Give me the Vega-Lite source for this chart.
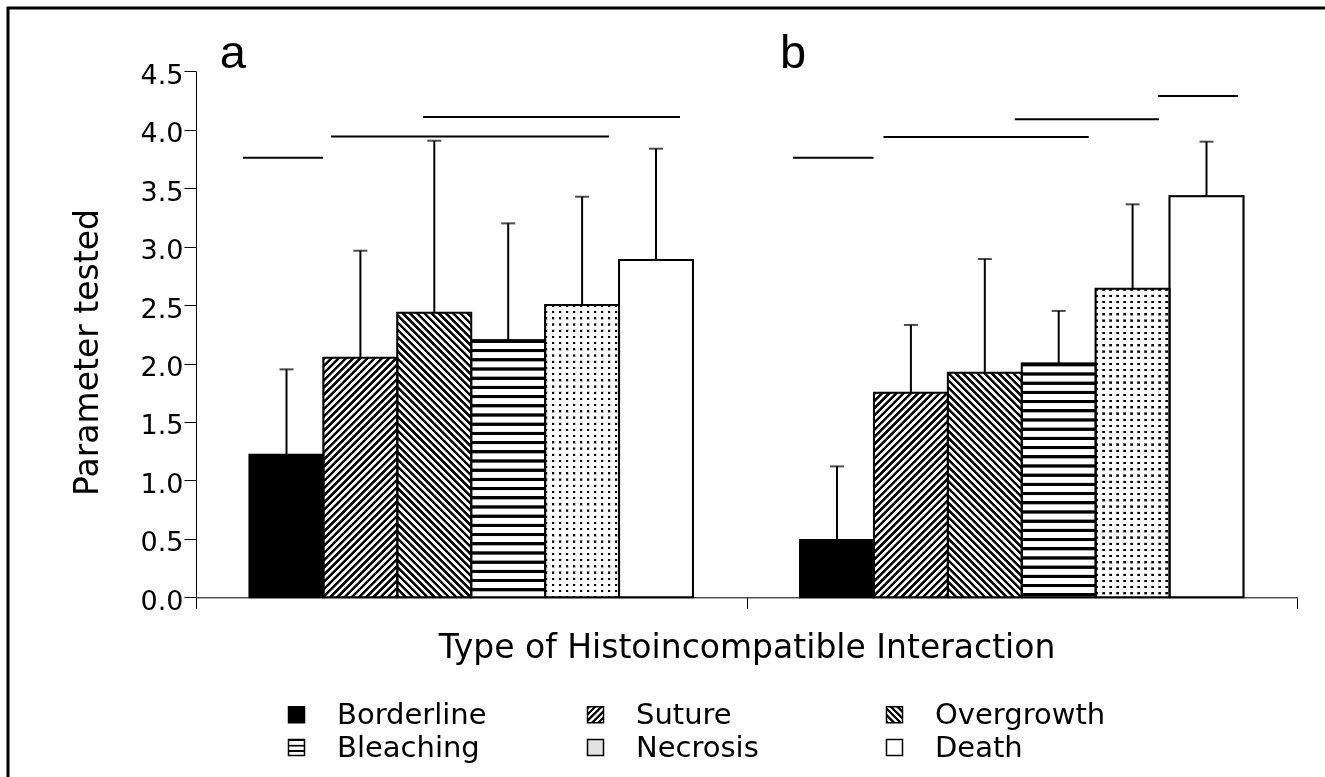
{
"$schema": "https://vega.github.io/schema/vega-lite/v6.json",
"width": 1319,
"height": 771,
"autosize": "none",
"padding": {"left": 8, "top": 8, "right": 0, "bottom": 0},
"background": "white",
"config": {"view": {"stroke": "black", "strokeWidth": 3}, "axis": {"grid": false}},
"params": [
{"name": "SA", "value": [
{"offset":0,"color":"#000"},{"offset":0.008,"color":"#000"},{"offset":0.01,"color":"#fff"},{"offset":0.018,"color":"#fff"},
{"offset":0.02,"color":"#000"},{"offset":0.028,"color":"#000"},{"offset":0.03,"color":"#fff"},{"offset":0.038,"color":"#fff"},
{"offset":0.04,"color":"#000"},{"offset":0.048,"color":"#000"},{"offset":0.05,"color":"#fff"},{"offset":0.058,"color":"#fff"},
{"offset":0.06,"color":"#000"},{"offset":0.068,"color":"#000"},{"offset":0.07,"color":"#fff"},{"offset":0.078,"color":"#fff"},
{"offset":0.08,"color":"#000"},{"offset":0.088,"color":"#000"},{"offset":0.09,"color":"#fff"},{"offset":0.098,"color":"#fff"},
{"offset":0.1,"color":"#000"},{"offset":0.108,"color":"#000"},{"offset":0.11,"color":"#fff"},{"offset":0.118,"color":"#fff"},
{"offset":0.12,"color":"#000"},{"offset":0.128,"color":"#000"},{"offset":0.13,"color":"#fff"},{"offset":0.138,"color":"#fff"},
{"offset":0.14,"color":"#000"},{"offset":0.148,"color":"#000"},{"offset":0.15,"color":"#fff"},{"offset":0.158,"color":"#fff"},
{"offset":0.16,"color":"#000"},{"offset":0.168,"color":"#000"},{"offset":0.17,"color":"#fff"},{"offset":0.178,"color":"#fff"},
{"offset":0.18,"color":"#000"},{"offset":0.188,"color":"#000"},{"offset":0.19,"color":"#fff"},{"offset":0.198,"color":"#fff"},
{"offset":0.2,"color":"#000"},{"offset":0.208,"color":"#000"},{"offset":0.21,"color":"#fff"},{"offset":0.218,"color":"#fff"},
{"offset":0.22,"color":"#000"},{"offset":0.228,"color":"#000"},{"offset":0.23,"color":"#fff"},{"offset":0.238,"color":"#fff"},
{"offset":0.24,"color":"#000"},{"offset":0.248,"color":"#000"},{"offset":0.25,"color":"#fff"},{"offset":0.258,"color":"#fff"},
{"offset":0.26,"color":"#000"},{"offset":0.268,"color":"#000"},{"offset":0.27,"color":"#fff"},{"offset":0.278,"color":"#fff"},
{"offset":0.28,"color":"#000"},{"offset":0.288,"color":"#000"},{"offset":0.29,"color":"#fff"},{"offset":0.298,"color":"#fff"},
{"offset":0.3,"color":"#000"},{"offset":0.308,"color":"#000"},{"offset":0.31,"color":"#fff"},{"offset":0.318,"color":"#fff"},
{"offset":0.32,"color":"#000"},{"offset":0.328,"color":"#000"},{"offset":0.33,"color":"#fff"},{"offset":0.338,"color":"#fff"},
{"offset":0.34,"color":"#000"},{"offset":0.348,"color":"#000"},{"offset":0.35,"color":"#fff"},{"offset":0.358,"color":"#fff"},
{"offset":0.36,"color":"#000"},{"offset":0.368,"color":"#000"},{"offset":0.37,"color":"#fff"},{"offset":0.378,"color":"#fff"},
{"offset":0.38,"color":"#000"},{"offset":0.388,"color":"#000"},{"offset":0.39,"color":"#fff"},{"offset":0.398,"color":"#fff"},
{"offset":0.4,"color":"#000"},{"offset":0.408,"color":"#000"},{"offset":0.41,"color":"#fff"},{"offset":0.418,"color":"#fff"},
{"offset":0.42,"color":"#000"},{"offset":0.428,"color":"#000"},{"offset":0.43,"color":"#fff"},{"offset":0.438,"color":"#fff"},
{"offset":0.44,"color":"#000"},{"offset":0.448,"color":"#000"},{"offset":0.45,"color":"#fff"},{"offset":0.458,"color":"#fff"},
{"offset":0.46,"color":"#000"},{"offset":0.468,"color":"#000"},{"offset":0.47,"color":"#fff"},{"offset":0.478,"color":"#fff"},
{"offset":0.48,"color":"#000"},{"offset":0.488,"color":"#000"},{"offset":0.49,"color":"#fff"},{"offset":0.498,"color":"#fff"},
{"offset":0.5,"color":"#000"},{"offset":0.508,"color":"#000"},{"offset":0.51,"color":"#fff"},{"offset":0.518,"color":"#fff"},
{"offset":0.52,"color":"#000"},{"offset":0.528,"color":"#000"},{"offset":0.53,"color":"#fff"},{"offset":0.538,"color":"#fff"},
{"offset":0.54,"color":"#000"},{"offset":0.548,"color":"#000"},{"offset":0.55,"color":"#fff"},{"offset":0.558,"color":"#fff"},
{"offset":0.56,"color":"#000"},{"offset":0.568,"color":"#000"},{"offset":0.57,"color":"#fff"},{"offset":0.578,"color":"#fff"},
{"offset":0.58,"color":"#000"},{"offset":0.588,"color":"#000"},{"offset":0.59,"color":"#fff"},{"offset":0.598,"color":"#fff"},
{"offset":0.6,"color":"#000"},{"offset":0.608,"color":"#000"},{"offset":0.61,"color":"#fff"},{"offset":0.618,"color":"#fff"},
{"offset":0.62,"color":"#000"},{"offset":0.628,"color":"#000"},{"offset":0.63,"color":"#fff"},{"offset":0.638,"color":"#fff"},
{"offset":0.64,"color":"#000"},{"offset":0.648,"color":"#000"},{"offset":0.65,"color":"#fff"},{"offset":0.658,"color":"#fff"},
{"offset":0.66,"color":"#000"},{"offset":0.668,"color":"#000"},{"offset":0.67,"color":"#fff"},{"offset":0.678,"color":"#fff"},
{"offset":0.68,"color":"#000"},{"offset":0.688,"color":"#000"},{"offset":0.69,"color":"#fff"},{"offset":0.698,"color":"#fff"},
{"offset":0.7,"color":"#000"},{"offset":0.708,"color":"#000"},{"offset":0.71,"color":"#fff"},{"offset":0.718,"color":"#fff"},
{"offset":0.72,"color":"#000"},{"offset":0.728,"color":"#000"},{"offset":0.73,"color":"#fff"},{"offset":0.738,"color":"#fff"},
{"offset":0.74,"color":"#000"},{"offset":0.748,"color":"#000"},{"offset":0.75,"color":"#fff"},{"offset":0.758,"color":"#fff"},
{"offset":0.76,"color":"#000"},{"offset":0.768,"color":"#000"},{"offset":0.77,"color":"#fff"},{"offset":0.778,"color":"#fff"},
{"offset":0.78,"color":"#000"},{"offset":0.788,"color":"#000"},{"offset":0.79,"color":"#fff"},{"offset":0.798,"color":"#fff"},
{"offset":0.8,"color":"#000"},{"offset":0.808,"color":"#000"},{"offset":0.81,"color":"#fff"},{"offset":0.818,"color":"#fff"},
{"offset":0.82,"color":"#000"},{"offset":0.828,"color":"#000"},{"offset":0.83,"color":"#fff"},{"offset":0.838,"color":"#fff"},
{"offset":0.84,"color":"#000"},{"offset":0.848,"color":"#000"},{"offset":0.85,"color":"#fff"},{"offset":0.858,"color":"#fff"},
{"offset":0.86,"color":"#000"},{"offset":0.868,"color":"#000"},{"offset":0.87,"color":"#fff"},{"offset":0.878,"color":"#fff"},
{"offset":0.88,"color":"#000"},{"offset":0.888,"color":"#000"},{"offset":0.89,"color":"#fff"},{"offset":0.898,"color":"#fff"},
{"offset":0.9,"color":"#000"},{"offset":0.908,"color":"#000"},{"offset":0.91,"color":"#fff"},{"offset":0.918,"color":"#fff"},
{"offset":0.92,"color":"#000"},{"offset":0.928,"color":"#000"},{"offset":0.93,"color":"#fff"},{"offset":0.938,"color":"#fff"},
{"offset":0.94,"color":"#000"},{"offset":0.948,"color":"#000"},{"offset":0.95,"color":"#fff"},{"offset":0.958,"color":"#fff"},
{"offset":0.96,"color":"#000"},{"offset":0.968,"color":"#000"},{"offset":0.97,"color":"#fff"},{"offset":0.978,"color":"#fff"},
{"offset":0.98,"color":"#000"},{"offset":0.988,"color":"#000"},{"offset":0.99,"color":"#fff"},{"offset":0.998,"color":"#fff"}
]},
{"name": "SB", "value": [
{"offset":0,"color":"#000"},{"offset":0.0055,"color":"#000"},{"offset":0.007,"color":"#fff"},{"offset":0.0185,"color":"#fff"},
{"offset":0.02,"color":"#000"},{"offset":0.0255,"color":"#000"},{"offset":0.027,"color":"#fff"},{"offset":0.0385,"color":"#fff"},
{"offset":0.04,"color":"#000"},{"offset":0.0455,"color":"#000"},{"offset":0.047,"color":"#fff"},{"offset":0.0585,"color":"#fff"},
{"offset":0.06,"color":"#000"},{"offset":0.0655,"color":"#000"},{"offset":0.067,"color":"#fff"},{"offset":0.0785,"color":"#fff"},
{"offset":0.08,"color":"#000"},{"offset":0.0855,"color":"#000"},{"offset":0.087,"color":"#fff"},{"offset":0.0985,"color":"#fff"},
{"offset":0.1,"color":"#000"},{"offset":0.1055,"color":"#000"},{"offset":0.107,"color":"#fff"},{"offset":0.1185,"color":"#fff"},
{"offset":0.12,"color":"#000"},{"offset":0.1255,"color":"#000"},{"offset":0.127,"color":"#fff"},{"offset":0.1385,"color":"#fff"},
{"offset":0.14,"color":"#000"},{"offset":0.1455,"color":"#000"},{"offset":0.147,"color":"#fff"},{"offset":0.1585,"color":"#fff"},
{"offset":0.16,"color":"#000"},{"offset":0.1655,"color":"#000"},{"offset":0.167,"color":"#fff"},{"offset":0.1785,"color":"#fff"},
{"offset":0.18,"color":"#000"},{"offset":0.1855,"color":"#000"},{"offset":0.187,"color":"#fff"},{"offset":0.1985,"color":"#fff"},
{"offset":0.2,"color":"#000"},{"offset":0.2055,"color":"#000"},{"offset":0.207,"color":"#fff"},{"offset":0.2185,"color":"#fff"},
{"offset":0.22,"color":"#000"},{"offset":0.2255,"color":"#000"},{"offset":0.227,"color":"#fff"},{"offset":0.2385,"color":"#fff"},
{"offset":0.24,"color":"#000"},{"offset":0.2455,"color":"#000"},{"offset":0.247,"color":"#fff"},{"offset":0.2585,"color":"#fff"},
{"offset":0.26,"color":"#000"},{"offset":0.2655,"color":"#000"},{"offset":0.267,"color":"#fff"},{"offset":0.2785,"color":"#fff"},
{"offset":0.28,"color":"#000"},{"offset":0.2855,"color":"#000"},{"offset":0.287,"color":"#fff"},{"offset":0.2985,"color":"#fff"},
{"offset":0.3,"color":"#000"},{"offset":0.3055,"color":"#000"},{"offset":0.307,"color":"#fff"},{"offset":0.3185,"color":"#fff"},
{"offset":0.32,"color":"#000"},{"offset":0.3255,"color":"#000"},{"offset":0.327,"color":"#fff"},{"offset":0.3385,"color":"#fff"},
{"offset":0.34,"color":"#000"},{"offset":0.3455,"color":"#000"},{"offset":0.347,"color":"#fff"},{"offset":0.3585,"color":"#fff"},
{"offset":0.36,"color":"#000"},{"offset":0.3655,"color":"#000"},{"offset":0.367,"color":"#fff"},{"offset":0.3785,"color":"#fff"},
{"offset":0.38,"color":"#000"},{"offset":0.3855,"color":"#000"},{"offset":0.387,"color":"#fff"},{"offset":0.3985,"color":"#fff"},
{"offset":0.4,"color":"#000"},{"offset":0.4055,"color":"#000"},{"offset":0.407,"color":"#fff"},{"offset":0.4185,"color":"#fff"},
{"offset":0.42,"color":"#000"},{"offset":0.4255,"color":"#000"},{"offset":0.427,"color":"#fff"},{"offset":0.4385,"color":"#fff"},
{"offset":0.44,"color":"#000"},{"offset":0.4455,"color":"#000"},{"offset":0.447,"color":"#fff"},{"offset":0.4585,"color":"#fff"},
{"offset":0.46,"color":"#000"},{"offset":0.4655,"color":"#000"},{"offset":0.467,"color":"#fff"},{"offset":0.4785,"color":"#fff"},
{"offset":0.48,"color":"#000"},{"offset":0.4855,"color":"#000"},{"offset":0.487,"color":"#fff"},{"offset":0.4985,"color":"#fff"},
{"offset":0.5,"color":"#000"},{"offset":0.5055,"color":"#000"},{"offset":0.507,"color":"#fff"},{"offset":0.5185,"color":"#fff"},
{"offset":0.52,"color":"#000"},{"offset":0.5255,"color":"#000"},{"offset":0.527,"color":"#fff"},{"offset":0.5385,"color":"#fff"},
{"offset":0.54,"color":"#000"},{"offset":0.5455,"color":"#000"},{"offset":0.547,"color":"#fff"},{"offset":0.5585,"color":"#fff"},
{"offset":0.56,"color":"#000"},{"offset":0.5655,"color":"#000"},{"offset":0.567,"color":"#fff"},{"offset":0.5785,"color":"#fff"},
{"offset":0.58,"color":"#000"},{"offset":0.5855,"color":"#000"},{"offset":0.587,"color":"#fff"},{"offset":0.5985,"color":"#fff"},
{"offset":0.6,"color":"#000"},{"offset":0.6055,"color":"#000"},{"offset":0.607,"color":"#fff"},{"offset":0.6185,"color":"#fff"},
{"offset":0.62,"color":"#000"},{"offset":0.6255,"color":"#000"},{"offset":0.627,"color":"#fff"},{"offset":0.6385,"color":"#fff"},
{"offset":0.64,"color":"#000"},{"offset":0.6455,"color":"#000"},{"offset":0.647,"color":"#fff"},{"offset":0.6585,"color":"#fff"},
{"offset":0.66,"color":"#000"},{"offset":0.6655,"color":"#000"},{"offset":0.667,"color":"#fff"},{"offset":0.6785,"color":"#fff"},
{"offset":0.68,"color":"#000"},{"offset":0.6855,"color":"#000"},{"offset":0.687,"color":"#fff"},{"offset":0.6985,"color":"#fff"},
{"offset":0.7,"color":"#000"},{"offset":0.7055,"color":"#000"},{"offset":0.707,"color":"#fff"},{"offset":0.7185,"color":"#fff"},
{"offset":0.72,"color":"#000"},{"offset":0.7255,"color":"#000"},{"offset":0.727,"color":"#fff"},{"offset":0.7385,"color":"#fff"},
{"offset":0.74,"color":"#000"},{"offset":0.7455,"color":"#000"},{"offset":0.747,"color":"#fff"},{"offset":0.7585,"color":"#fff"},
{"offset":0.76,"color":"#000"},{"offset":0.7655,"color":"#000"},{"offset":0.767,"color":"#fff"},{"offset":0.7785,"color":"#fff"},
{"offset":0.78,"color":"#000"},{"offset":0.7855,"color":"#000"},{"offset":0.787,"color":"#fff"},{"offset":0.7985,"color":"#fff"},
{"offset":0.8,"color":"#000"},{"offset":0.8055,"color":"#000"},{"offset":0.807,"color":"#fff"},{"offset":0.8185,"color":"#fff"},
{"offset":0.82,"color":"#000"},{"offset":0.8255,"color":"#000"},{"offset":0.827,"color":"#fff"},{"offset":0.8385,"color":"#fff"},
{"offset":0.84,"color":"#000"},{"offset":0.8455,"color":"#000"},{"offset":0.847,"color":"#fff"},{"offset":0.8585,"color":"#fff"},
{"offset":0.86,"color":"#000"},{"offset":0.8655,"color":"#000"},{"offset":0.867,"color":"#fff"},{"offset":0.8785,"color":"#fff"},
{"offset":0.88,"color":"#000"},{"offset":0.8855,"color":"#000"},{"offset":0.887,"color":"#fff"},{"offset":0.8985,"color":"#fff"},
{"offset":0.9,"color":"#000"},{"offset":0.9055,"color":"#000"},{"offset":0.907,"color":"#fff"},{"offset":0.9185,"color":"#fff"},
{"offset":0.92,"color":"#000"},{"offset":0.9255,"color":"#000"},{"offset":0.927,"color":"#fff"},{"offset":0.9385,"color":"#fff"},
{"offset":0.94,"color":"#000"},{"offset":0.9455,"color":"#000"},{"offset":0.947,"color":"#fff"},{"offset":0.9585,"color":"#fff"},
{"offset":0.96,"color":"#000"},{"offset":0.9655,"color":"#000"},{"offset":0.967,"color":"#fff"},{"offset":0.9785,"color":"#fff"},
{"offset":0.98,"color":"#000"},{"offset":0.9855,"color":"#000"},{"offset":0.987,"color":"#fff"},{"offset":0.9985,"color":"#fff"}
]},
{"name": "gSutA", "expr": "{gradient: 'linear', x1: 0, y1: 0, x2: 0.4232, y2: 1.372, stops: SA}"},
{"name": "gSutB", "expr": "{gradient: 'linear', x1: 0, y1: 0, x2: 0.5622, y2: 1.5565, stops: SA}"},
{"name": "gOvgA", "expr": "{gradient: 'linear', x1: 0, y1: 1, x2: 0.3077, y2: -0.1849, stops: SA}"},
{"name": "gOvgB", "expr": "{gradient: 'linear', x1: 0, y1: 1, x2: 0.4766, y2: -0.4473, stops: SA}"},
{"name": "gBleA", "expr": "{gradient: 'linear', x1: 0, y1: 0, x2: 0, y2: 1.7885, stops: SB}"},
{"name": "gBleB", "expr": "{gradient: 'linear', x1: 0, y1: 0, x2: 0, y2: 1.9675, stops: SB}"},
{"name": "gNecA", "expr": "{gradient: 'linear', x1: 0, y1: 0, x2: 0, y2: 1.061, stops: SB}"},
{"name": "gNecB", "expr": "{gradient: 'linear', x1: 0, y1: 0, x2: 0, y2: 1.0045, stops: SB}"},
{"name": "gNecC", "expr": "{gradient: 'linear', x1: 0, y1: 0, x2: 4.736, y2: 0, stops: SB}"},
{"name": "gSutL", "expr": "{gradient: 'linear', x1: 0, y1: 0, x2: 10, y2: 10, stops: SA}"},
{"name": "gOvgL", "expr": "{gradient: 'linear', x1: 0, y1: 1, x2: 10, y2: -9, stops: SA}"},
{"name": "gBleL", "expr": "{gradient: 'linear', x1: 0, y1: 0, x2: 0, y2: 16.7, stops: SB}"}
],
"datasets": {
"bars": [
{"panel": "a", "type": "Borderline", "value": 1.22, "upper": 1.95},
{"panel": "a", "type": "Suture", "value": 2.05, "upper": 2.965},
{"panel": "a", "type": "Overgrowth", "value": 2.435, "upper": 3.906},
{"panel": "a", "type": "Bleaching", "value": 2.2, "upper": 3.199},
{"panel": "a", "type": "Necrosis", "value": 2.5, "upper": 3.427},
{"panel": "a", "type": "Death", "value": 2.885, "upper": 3.838},
{"panel": "b", "type": "Borderline", "value": 0.49, "upper": 1.12},
{"panel": "b", "type": "Suture", "value": 1.75, "upper": 2.33},
{"panel": "b", "type": "Overgrowth", "value": 1.92, "upper": 2.894},
{"panel": "b", "type": "Bleaching", "value": 2.0, "upper": 2.45},
{"panel": "b", "type": "Necrosis", "value": 2.64, "upper": 3.362},
{"panel": "b", "type": "Death", "value": 3.43, "upper": 3.898}
],
"sig": [
{"panel": "a", "start": 0.0854, "end": 0.2307, "level": 3.76},
{"panel": "a", "start": 0.2452, "end": 0.7502, "level": 3.943},
{"panel": "a", "start": 0.4124, "end": 0.8792, "level": 4.11},
{"panel": "b", "start": 1.0845, "end": 1.2307, "level": 3.76},
{"panel": "b", "start": 1.2489, "end": 1.6217, "level": 3.938},
{"panel": "b", "start": 1.4874, "end": 1.7492, "level": 4.089},
{"panel": "b", "start": 1.7475, "end": 1.8928, "level": 4.288}
],
"labels": [
{"label": "a", "x": 0.0431, "y": 4.526},
{"label": "b", "x": 1.0609, "y": 4.526}
]
},
"resolve": {"scale": {"x": "independent"}, "axis": {"x": "independent", "y": "independent"}},
"layer": [
{
"data": {"name": "bars"},
"encoding": {
"x": {"field": "panel", "type": "nominal",
"scale": {"domain": ["a", "b"], "range": [188, 1289], "paddingInner": 0, "paddingOuter": 0},
"axis": {"orient": "bottom", "offset": -181.7, "labels": false, "tickBand": "extent", "tickSize": 11, "tickColor": "black", "tickWidth": 1, "domainColor": "black", "domainWidth": 1,
"title": "Type of Histoincompatible Interaction", "titleFont": "DejaVu Sans", "titleFontSize": 33, "titleFontWeight": "normal", "titleColor": "black", "titlePadding": 23}},
"xOffset": {"field": "type", "type": "nominal",
"scale": {"domain": ["Borderline", "Suture", "Overgrowth", "Bleaching", "Necrosis", "Death"], "paddingInner": 0, "paddingOuter": 0.7246}},
"y": {"field": "value", "type": "quantitative",
"scale": {"domain": [0, 4.5], "range": [589.3, 63.3], "nice": false, "zero": true},
"axis": {"orient": "left", "offset": -188, "values": [0, 0.5, 1, 1.5, 2, 2.5, 3, 3.5, 4, 4.5], "format": ".1f",
"labelFont": "DejaVu Sans", "labelFontSize": 27, "labelColor": "black", "labelPadding": 1, "labelOffset": 4, "labelFlush": false, "labelOverlap": false,
"tickSize": 12, "tickColor": "black", "tickWidth": 1, "domainColor": "black", "domainWidth": 1,
"title": "Parameter tested", "titleFont": "DejaVu Sans", "titleFontSize": 33, "titleFontWeight": "normal", "titleColor": "black", "titlePadding": 36, "titleY": 344}}
},
"layer": [
{"mark": {"type": "bar", "stroke": "black", "strokeWidth": 1.5},
"encoding": {"fill": {"field": "type", "type": "nominal",
"scale": {"domain": ["Borderline", "Bleaching", "Suture", "Necrosis", "Overgrowth", "Death"],
"range": ["black", {"expr": "gBleL"}, {"expr": "gSutL"}, "#e2e2e2", {"expr": "gOvgL"}, "white"]},
"legend": {"title": null, "orient": "none", "legendX": 274, "legendY": 692, "columns": 3, "direction": "vertical",
"symbolType": "square", "symbolSize": 256, "symbolStrokeColor": "black", "symbolStrokeWidth": 1.5, "symbolOpacity": 1,
"labelFont": "DejaVu Sans", "labelFontSize": 29, "labelColor": "black", "labelOffset": 26,
"columnPadding": 73, "rowPadding": 3, "gridAlign": "all", "padding": 0, "labelLimit": 400}}}},
{"mark": {"type": "bar", "strokeWidth": 0,
"fill": {"expr": "datum.type === 'Borderline' ? 'black' : datum.type === 'Death' ? 'white' : datum.type === 'Suture' ? (datum.panel === 'a' ? gSutA : gSutB) : datum.type === 'Overgrowth' ? (datum.panel === 'a' ? gOvgA : gOvgB) : datum.type === 'Bleaching' ? (datum.panel === 'a' ? gBleA : gBleB) : (datum.panel === 'a' ? gNecA : gNecB)"}}},
{"transform": [{"filter": "datum.type === 'Necrosis'"}],
"mark": {"type": "bar", "strokeWidth": 0, "blend": "lighten", "fill": {"expr": "gNecC"}}},
{"mark": {"type": "bar", "fill": "transparent", "stroke": "black", "strokeWidth": 2}},
{"mark": {"type": "rule", "color": "black", "strokeWidth": 2},
"encoding": {"y2": {"field": "upper"}}},
{"mark": {"type": "tick", "color": "black", "size": 14, "thickness": 2},
"encoding": {"y": {"field": "upper", "type": "quantitative", "scale": {"domain": [0, 4.5], "range": [589.3, 63.3], "nice": false, "zero": true}}}}
]
},
{
"data": {"name": "sig"},
"mark": {"type": "rule", "color": "black", "strokeWidth": 2},
"encoding": {
"x": {"field": "start", "type": "quantitative", "scale": {"domain": [0, 2], "range": [188, 1289], "nice": false, "zero": false}, "axis": null},
"x2": {"field": "end"},
"y": {"field": "level", "type": "quantitative", "scale": {"domain": [0, 4.5], "range": [589.3, 63.3], "nice": false, "zero": true}, "axis": null}
}
},
{
"data": {"name": "labels"},
"mark": {"type": "text", "font": "Liberation Sans", "fontSize": 47, "align": "left", "baseline": "alphabetic", "color": "black"},
"encoding": {
"x": {"field": "x", "type": "quantitative", "scale": {"domain": [0, 2], "range": [188, 1289], "nice": false, "zero": false}, "axis": null},
"y": {"field": "y", "type": "quantitative", "scale": {"domain": [0, 4.5], "range": [589.3, 63.3], "nice": false, "zero": true}, "axis": null},
"text": {"field": "label"}
}
}
]
}
